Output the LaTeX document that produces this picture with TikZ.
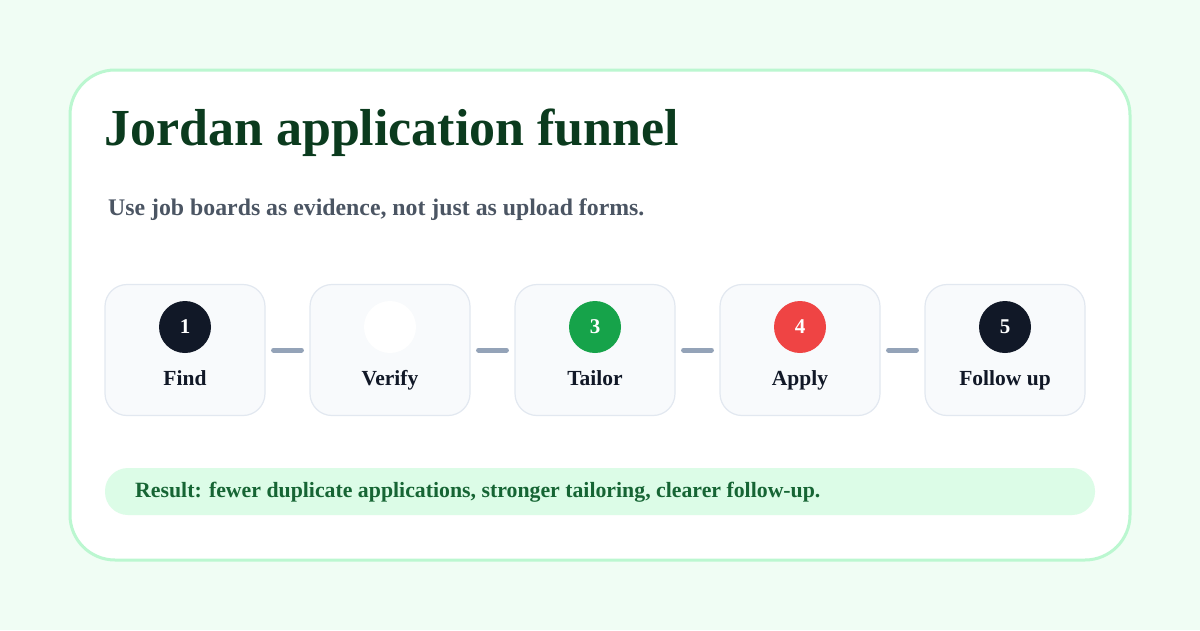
\documentclass[tikz,border=0pt]{standalone}
\usepackage{fontspec}
\setmainfont{Liberation Serif}
\definecolor{bg}{HTML}{F0FDF4}
\definecolor{cardb}{HTML}{BBF7D0}
\definecolor{titlec}{HTML}{0B3B1E}
\definecolor{subc}{HTML}{4B5563}
\definecolor{boxf}{HTML}{F8FAFC}
\definecolor{boxd}{HTML}{E2E8F0}
\definecolor{dark}{HTML}{111827}
\definecolor{greenc}{HTML}{16A34A}
\definecolor{redc}{HTML}{EF4444}
\definecolor{conn}{HTML}{94A3B8}
\definecolor{resf}{HTML}{DCFCE7}
\definecolor{rest}{HTML}{166534}
\begin{document}
\begin{tikzpicture}[x=1pt,y=-1pt,
  stepbox/.style={draw=boxd,line width=1.2pt,fill=boxf,rounded corners=22pt,minimum width=160pt,minimum height=131pt,inner sep=0pt},
  num/.style={circle,minimum size=52pt,inner sep=0pt,text=white,font=\bfseries\fontsize{21}{21}\selectfont},
  lab/.style={text=dark,anchor=base,inner sep=0pt,font=\bfseries\fontsize{21.5}{24}\selectfont},
  connline/.style={draw=conn,line width=5pt,line cap=round}]
\fill[bg] (0,0) rectangle (1200,630);
\useasboundingbox (0,0) rectangle (1200,630);
\draw[cardb,line width=3pt,fill=white,rounded corners=45pt] (70,70) rectangle (1130,560);
\node[anchor=west,text=titlec,font=\bfseries\fontsize{52}{56}\selectfont,inner sep=0pt] (title) at (104,133) {Jordan application funnel};
\node[anchor=west,text=subc,font=\bfseries\fontsize{23.8}{26}\selectfont,inner sep=0pt] (sub) at (108,210) {Use job boards as evidence, not just as upload forms.};
\foreach \i/\x/\c/\n/\t in {1/185/dark/1/Find,2/390/white/{}/Verify,3/595/greenc/3/Tailor,4/800/redc/4/Apply,5/1005/dark/5/Follow up}{
  \node[stepbox] (s\i) at (\x,350) {};
  \node[num,fill=\c] (c\i) at (\x,327) {\n};
  \node[lab] (l\i) at (\x,385) {\t};
}
\foreach \a/\b in {1/2,2/3,3/4,4/5}{
  \draw[connline] ([xshift=8pt]s\a.east) -- ([xshift=-8pt]s\b.west);
}
\fill[resf,rounded corners=23pt] (105,468) rectangle (1095,515);
\node[anchor=west,text=rest,font=\bfseries\fontsize{21.8}{24}\selectfont,inner sep=0pt] (res) at (135,492) {Result: fewer duplicate applications, stronger tailoring, clearer follow-up.};
\end{tikzpicture}
\end{document}
